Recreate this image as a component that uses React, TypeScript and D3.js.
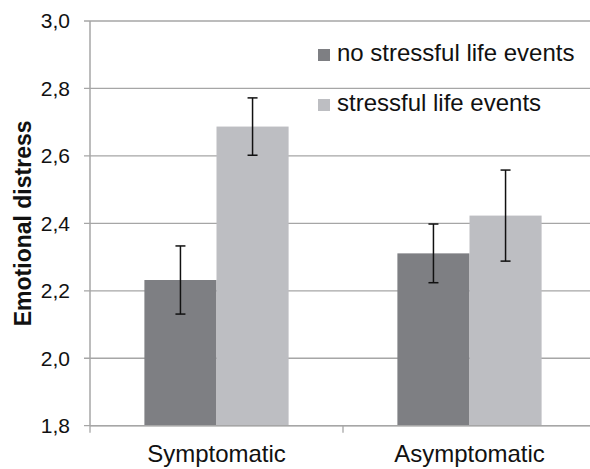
import * as d3 from 'd3';

const categories = ['Symptomatic', 'Asymptomatic'];
const seriesNames = ['no stressful life events', 'stressful life events'];
const noStressMeans = [2.232, 2.311];
const noStressErrors = [0.101, 0.087];
const stressMeans = [2.687, 2.423];
const stressErrors = [0.085, 0.135];
const yTicks = [1.8, 2.0, 2.2, 2.4, 2.6, 2.8, 3.0];

const colors = ['#7e7f83', '#bdbec2'];
const gridColor = '#a6a6a6';
const font = '"Liberation Sans", Arial, sans-serif';

const App = () => {
    const width = 590;
    const height = 469;
    const margin = { top: 21, left: 90, bottom: 425.7, right: 596 };

    const y = d3.scaleLinear().domain([1.8, 3.0]).range([margin.bottom, margin.top]);

    const x0 = d3.scaleBand()
        .domain(categories)
        .range([margin.left, margin.right])
        .paddingInner(0.43)
        .paddingOuter(0.215);

    const x1 = d3.scaleBand()
        .domain(seriesNames)
        .range([0, x0.bandwidth()]);

    const step = x0.step();
    const boundaries = [margin.left, margin.left + step, margin.left + 2 * step];

    const rows = categories.map((c, i) => ({
        category: c,
        values: [
            { name: seriesNames[0], mean: noStressMeans[i], err: noStressErrors[i] },
            { name: seriesNames[1], mean: stressMeans[i], err: stressErrors[i] },
        ],
    }));

    const fmt = (v: number) => v.toFixed(1).replace('.', ',');

    return (
        <svg width={width} height={height} style={{ position: 'absolute', left: 0, top: 0, display: 'block' }}>
            <rect width={width} height={height} fill="white" />

            {/* grid + y ticks */}
            {yTicks.map(t => (
                <g key={t}>
                    <line x1={84} x2={margin.right} y1={y(t)} y2={y(t)} stroke={gridColor} strokeWidth={1.3} />
                    <text x={70} y={y(t)} dy="0.35em" textAnchor="end" fontFamily={font} fontSize={21} fill="#111">
                        {fmt(t)}
                    </text>
                </g>
            ))}

            {/* bars */}
            {rows.map(r => (
                <g key={r.category} transform={`translate(${x0(r.category)},0)`}>
                    {r.values.map((v, j) => (
                        <rect
                            key={v.name}
                            x={x1(v.name)}
                            y={y(v.mean)}
                            width={x1.bandwidth()}
                            height={y(1.8) - y(v.mean)}
                            fill={colors[j]}
                        />
                    ))}
                </g>
            ))}

            {/* error bars */}
            {rows.map(r => (
                <g key={r.category + '-err'} transform={`translate(${x0(r.category)},0)`}>
                    {r.values.map(v => {
                        const cx = (x1(v.name) ?? 0) + x1.bandwidth() / 2;
                        return (
                            <g key={v.name} stroke="#111" strokeWidth={1.5}>
                                <line x1={cx} x2={cx} y1={y(v.mean + v.err)} y2={y(v.mean - v.err)} />
                                <line x1={cx - 5} x2={cx + 5} y1={y(v.mean + v.err)} y2={y(v.mean + v.err)} />
                                <line x1={cx - 5} x2={cx + 5} y1={y(v.mean - v.err)} y2={y(v.mean - v.err)} />
                            </g>
                        );
                    })}
                </g>
            ))}

            {/* axes */}
            <line x1={margin.left} x2={margin.left} y1={margin.top} y2={margin.bottom} stroke={gridColor} strokeWidth={1.5} />
            <line x1={margin.left} x2={margin.right} y1={margin.bottom} y2={margin.bottom} stroke={gridColor} strokeWidth={1.5} />
            {boundaries.map(b => (
                <line key={b} x1={b} x2={b} y1={margin.bottom} y2={margin.bottom + 7} stroke={gridColor} strokeWidth={1.3} />
            ))}

            {/* category labels */}
            {categories.map(c => (
                <text key={c} x={(x0(c) ?? 0) + x0.bandwidth() / 2} y={462} textAnchor="middle"
                    fontFamily={font} fontSize={24} fill="#111">
                    {c}
                </text>
            ))}

            {/* y title */}
            <text transform={`translate(31,${(margin.top + margin.bottom) / 2}) rotate(-90)`}
                textAnchor="middle" fontFamily={font} fontSize={23} fontWeight="bold" fill="#111">
                Emotional distress
            </text>

            {/* legend */}
            {seriesNames.map((s, i) => (
                <g key={s} transform={`translate(318,${49 + i * 50})`}>
                    <rect width={12} height={12} fill={colors[i]} />
                    <text x={19} y={12} fontFamily={font} fontSize={24} fill="#111">{s}</text>
                </g>
            ))}
        </svg>
    );
};

export default App;
